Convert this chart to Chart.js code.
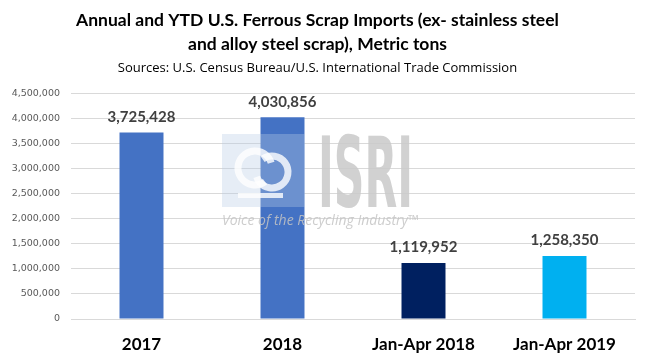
<!DOCTYPE html>
<html><head><meta charset="utf-8">
<script src="https://cdn.jsdelivr.net/npm/chart.js@4"></script>
<style>html,body{margin:0;padding:0;background:#fff}#wrap{width:650px;height:364px}</style>
</head><body><div id="wrap"><canvas id="c" width="650" height="364"></canvas></div>
<script>
const categories = ["2017", "2018", "Jan-Apr 2018", "Jan-Apr 2019"];
const imports = [3725428, 4030856, 1119952, 1258350];
const barColors = ["#4472C4", "#4472C4", "#002060", "#00B0F0"];
const titleLines = ["Annual and YTD U.S. Ferrous Scrap Imports (ex- stainless steel", "and alloy steel scrap), Metric tons"];
const subtitleText = "Sources: U.S. Census Bureau/U.S. International Trade Commission";

const fmt = v => v.toLocaleString('en-US');
const BOLD = "Lato, 'Open Sans', sans-serif";

const valueLabels = {
  id: 'valueLabels',
  afterDatasetsDraw(chart) {
    const ctx = chart.ctx;
    const meta = chart.getDatasetMeta(0);
    ctx.save();
    ctx.font = "bold 15px " + BOLD;
    ctx.fillStyle = "#404040";
    ctx.textAlign = "center";
    ctx.textBaseline = "bottom";
    meta.data.forEach((bar, i) => {
      ctx.fillText(fmt(imports[i]), bar.x, bar.y - 8);
    });
    ctx.restore();
  }
};

const watermark = {
  id: 'watermark',
  afterDatasetsDraw(chart) {
    const ctx = chart.ctx;
    ctx.save();
    // logo square
    ctx.globalAlpha = 0.35;
    ctx.fillStyle = "#b8cbe4";
    ctx.fillRect(222, 134, 83, 73);
    ctx.globalAlpha = 0.8;
    ctx.strokeStyle = "#ffffff";
    ctx.lineWidth = 7;
    ctx.beginPath(); ctx.arc(255, 168, 17, 0.3*Math.PI, 1.9*Math.PI); ctx.stroke();
    ctx.beginPath(); ctx.arc(272, 172, 16, 1.3*Math.PI, 0.9*Math.PI); ctx.stroke();
    ctx.fillStyle = "#ffffff";
    ctx.fillRect(238, 193, 45, 5);
    // ISRI text
    ctx.globalAlpha = 0.85;
    ctx.fillStyle = "#c9c9c9";
    ctx.font = "bold 98px 'Liberation Sans Narrow', 'DejaVu Sans Condensed', sans-serif";
    ctx.textBaseline = "alphabetic";
    ctx.textAlign = "left";
    const w = ctx.measureText("ISRI").width;
    ctx.save();
    ctx.translate(318, 207);
    ctx.scale(95 / w, 1);
    ctx.fillText("ISRI", 0, 0);
    ctx.restore();
    ctx.font = "italic 14px 'Open Sans', sans-serif";
    ctx.fillStyle = "#c4c4c4";
    ctx.fillText("Voice of the Recycling Industry\u2122", 222, 225);
    ctx.restore();
  }
};

new Chart(document.getElementById('c'), {
  type: 'bar',
  data: {
    labels: categories,
    datasets: [{
      data: imports,
      backgroundColor: barColors,
      barPercentage: 0.312,
      categoryPercentage: 1.0
    }]
  },
  options: {
    responsive: false,
    animation: false,
    devicePixelRatio: 1,
    layout: { padding: { left: 0, right: 15, top: 0, bottom: 10 } },
    plugins: {
      legend: { display: false },
      tooltip: { enabled: false },
      title: {
        display: true,
        text: titleLines,
        color: "#000000",
        font: { family: BOLD, size: 17.5, weight: 'bold', lineHeight: 1.35 },
        padding: { top: 9, bottom: 0 }
      },
      subtitle: {
        display: true,
        text: subtitleText,
        color: "#000000",
        font: { family: "'Open Sans', sans-serif", size: 13, lineHeight: 1.2 },
        padding: { top: 4, bottom: 18 }
      }
    },
    scales: {
      x: {
        afterFit(s) { s.height = 35; },
        grid: { display: false, drawTicks: false },
        border: { display: true, color: "#d9d9d9", width: 1 },
        ticks: { color: "#000000", font: { family: BOLD, size: 17, weight: 'bold' }, padding: 15 }
      },
      y: {
        min: 0, max: 4500000,
        afterFit(s) { s.width = 71; },
        grid: { color: "#d9d9d9", drawTicks: false },
        border: { display: false },
        ticks: {
          stepSize: 500000,
          color: "#595959",
          padding: 11,
          font: { family: "'DejaVu Sans', Verdana, sans-serif", size: 9.5 },
          callback: v => fmt(v)
        }
      }
    }
  },
  plugins: [watermark, valueLabels]
});
</script>
</body></html>
